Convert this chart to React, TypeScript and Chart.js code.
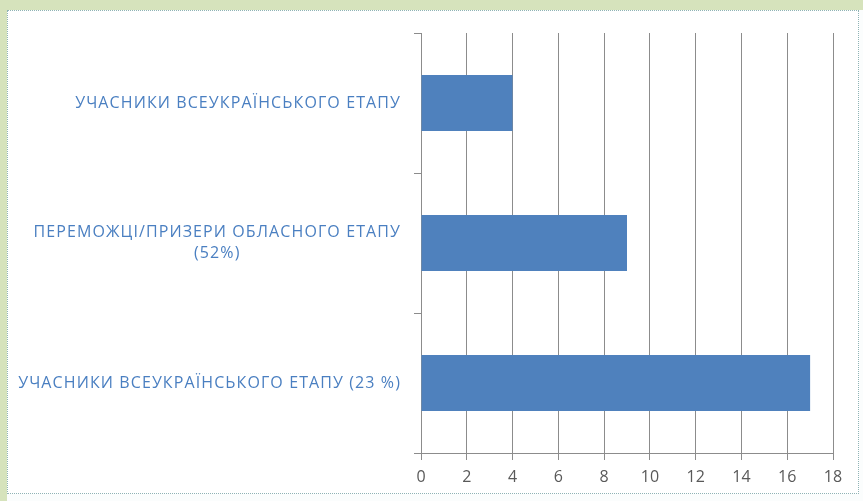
import React, { useEffect, useRef } from "react";
import { Chart, registerables } from "chart.js";

Chart.register(...registerables);

const categories: string[][] = [
  ["УЧАСНИКИ ВСЕУКРАЇНСЬКОГО ЕТАПУ"],
  ["ПЕРЕМОЖЦІ/ПРИЗЕРИ ОБЛАСНОГО ЕТАПУ", "(52%)"],
  ["УЧАСНИКИ ВСЕУКРАЇНСЬКОГО ЕТАПУ (23 %)"],
];
const values: number[] = [4, 9, 17];
const xMin = 0;
const xMax = 18;
const xStep = 2;

const LABEL_FONT = "16px 'Open Sans'";
const LABEL_COLOR = "#4a7fc1";

const categoryLabelPlugin = {
  id: "categoryLabels",
  afterDraw(chart: any) {
    const y = chart.scales.y;
    const ctx = chart.ctx;
    ctx.save();
    ctx.font = LABEL_FONT;
    (ctx as any).letterSpacing = "1.1px";
    ctx.fillStyle = LABEL_COLOR;
    ctx.textAlign = "center";
    ctx.textBaseline = "middle";
    const lineH = 21;
    const rightEdge = y.right - 20;
    categories.forEach((lines, i) => {
      const cy = y.getPixelForValue(i);
      const w = Math.max(...lines.map((l) => ctx.measureText(l).width));
      const cx = rightEdge - w / 2;
      const startY = cy - ((lines.length - 1) * lineH) / 2;
      lines.forEach((l, k) => ctx.fillText(l, cx, startY + k * lineH));
    });
    ctx.restore();
  },
};

export default function App() {
  const ref = useRef<HTMLCanvasElement | null>(null);
  useEffect(() => {
    if (!ref.current) return;
    const chart = new Chart(ref.current, {
      type: "bar",
      data: {
        labels: categories.map((c) => c.join(" ")),
        datasets: [
          {
            data: values,
            backgroundColor: "#4f81bd",
            borderWidth: 0,
            barPercentage: 0.4,
            categoryPercentage: 1.0,
          },
        ],
      },
      options: {
        indexAxis: "y",
        animation: false,
        responsive: false,
        maintainAspectRatio: false,
        layout: { padding: { left: 0, top: 33, right: 30, bottom: 0 } },
        plugins: { legend: { display: false }, tooltip: { enabled: false } },
        scales: {
          x: {
            min: xMin,
            max: xMax,
            ticks: {
              stepSize: xStep,
              color: "#595959",
              font: { family: "'Open Sans'", size: 16 },
              padding: 8,
              maxRotation: 0,
            },
            grid: {
              color: "#8c8c8c",
              lineWidth: 1,
              drawTicks: true,
              tickLength: 7,
              tickColor: "#8c8c8c",
            },
            border: { color: "#8c8c8c" },
            afterFit: (scale: any) => {
              scale.height = 48;
            },
          },
          y: {
            ticks: { display: false },
            grid: {
              offset: true,
              drawOnChartArea: false,
              drawTicks: true,
              tickLength: 7,
              color: "#8c8c8c",
            },
            border: { color: "#8c8c8c" },
            afterFit: (scale: any) => {
              scale.width = 421;
            },
          },
        },
      },
      plugins: [categoryLabelPlugin],
    });
    return () => chart.destroy();
  }, []);

  return (
    <div
      style={{
        position: "fixed",
        left: 0,
        top: 0,
        width: 863,
        height: 501,
        background: "#fbfdfd",
        overflow: "hidden",
      }}
    >
      <div style={{ position: "absolute", left: 0, top: 0, width: 863, height: 10, background: "#d6e3bc" }} />
      <div style={{ position: "absolute", left: 0, top: 0, width: 7, height: 501, background: "#d6e3bc" }} />
      <div
        style={{
          position: "absolute",
          left: 7,
          top: 10,
          width: 852,
          height: 484,
          background: "#ffffff",
          border: "1px dotted #8fb3b5",
          boxSizing: "border-box",
        }}
      />
      <canvas
        ref={ref}
        width={863}
        height={501}
        style={{ position: "absolute", left: 0, top: 0, width: 863, height: 501 }}
      />
    </div>
  );
}
